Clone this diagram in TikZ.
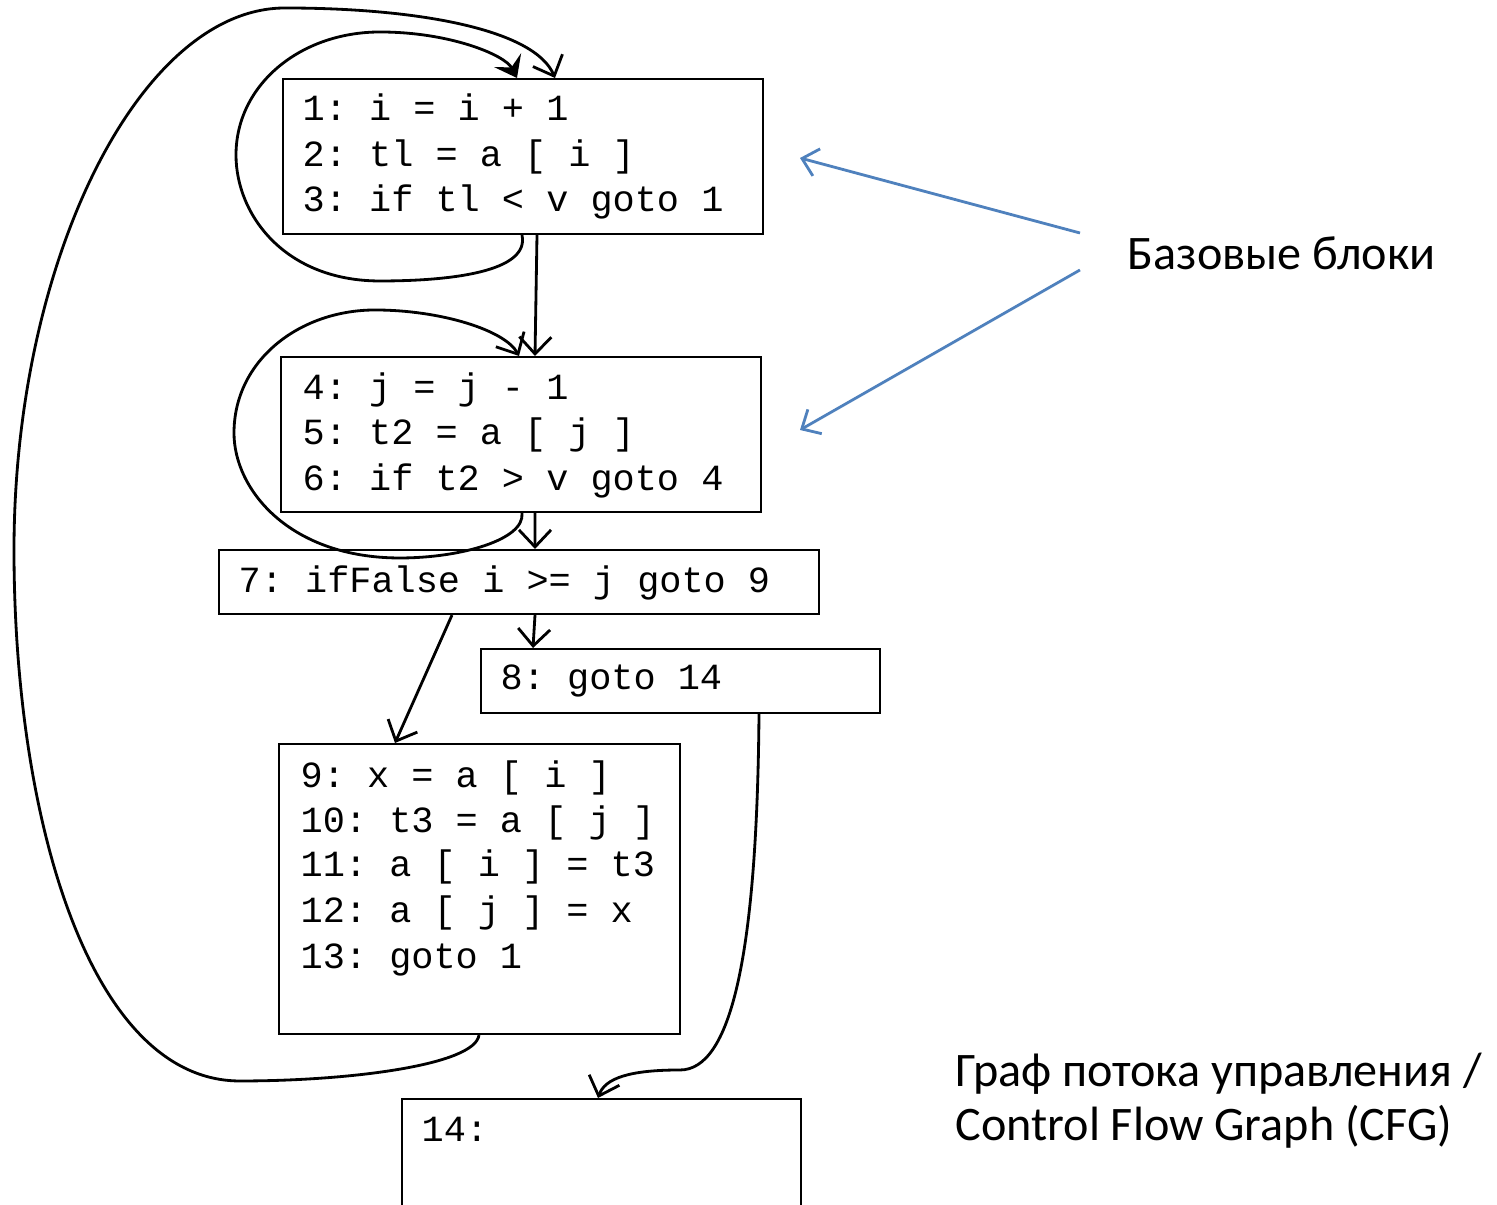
\documentclass[tikz,border=0pt]{standalone}
\usepackage{fontspec}
\setmainfont{Carlito}
\newfontfamily\codefont{Liberation Mono}
\usetikzlibrary{arrows.meta}

\definecolor{noteblue}{RGB}{79,129,189}
\frenchspacing

\begin{document}
\begin{tikzpicture}[
  block/.style={draw, line width=0.6pt, anchor=north west, inner sep=0pt},
  code/.style={anchor=base west, inner sep=0pt, font=\codefont\fontsize{10.5}{13}\selectfont},
  note/.style={anchor=base west, inner sep=0pt, font=\fontsize{13.7}{16}\selectfont},
  flow/.style={line width=0.8pt, -{Straight Barb[length=1.7mm, width=3.2mm]}},
  hint/.style={noteblue, line width=0.8pt, -{Straight Barb[length=1.5mm, width=2.8mm]}}
]
 \clip (0,0) rectangle (14.97,-12.05);

  % Blocks
  \node[block, minimum width=4.80cm, minimum height=1.55cm] (b1) at (2.82,-0.78) {};
  \node[block, minimum width=4.80cm, minimum height=1.55cm] (b2) at (2.80,-3.56) {};
  \node[block, minimum width=6.00cm, minimum height=0.64cm] (b3) at (2.18,-5.49) {};
  \node[block, minimum width=3.99cm, minimum height=0.64cm] (b4) at (4.80,-6.48) {};
  \node[block, minimum width=4.01cm, minimum height=2.90cm] (b5) at (2.78,-7.43) {};
  \node[block, minimum width=3.99cm, minimum height=1.60cm] (b6) at (4.01,-10.98) {};

  % Code in block 1
  \node[code] (l1) at (3.02,-1.21) {1: i = i + 1};
  \node[code] (l2) at (3.02,-1.67) {2: tl = a [ i ]};
  \node[code] (l3) at (3.02,-2.12) {3: if tl < v goto 1};

  % Code in block 2
  \node[code] (l4) at (3.02,-4.00) {4: j = j - 1};
  \node[code] (l5) at (3.02,-4.45) {5: t2 = a [ j ]};
  \node[code] (l6) at (3.02,-4.91) {6: if t2 > v goto 4};

  % Blocks 3 and 4
  \node[code] (l7) at (2.38,-5.93) {7: ifFalse i >= j goto 9};
  \node[code] (l8) at (5.00,-6.90) {8: goto 14};

  % Code in block 5
  \node[code] (l9) at (3.00,-7.88) {9: x = a [ i ]};
  \node[code] (l10) at (3.00,-8.33) {10: t3 = a [ j ]};
  \node[code] (l11) at (3.00,-8.77) {11: a [ i ] = t3};
  \node[code] (l12) at (3.00,-9.23) {12: a [ j ] = x};
  \node[code] (l13) at (3.00,-9.69) {13: goto 1};

  % Block 6
  \node[code] (l14) at (4.21,-11.42) {14:};

  % Notes
  \node[note] (base) at (11.27,-2.70) {Базовые блоки};
  \node[note] (cfg1) at (9.55,-10.87) {Граф потока управления /};
  \node[note] (cfg2) at (9.55,-11.41) {Control Flow Graph (CFG)};

  \coordinate (h1) at (10.80,-2.33);
  \coordinate (h2) at (10.80,-2.70);
  \coordinate (t1) at (8.00,-1.58);
  \coordinate (t2) at (8.00,-4.30);

  % Straight edges
  \draw[flow] ([xshift=2.55cm]b1.south west) -- ([xshift=2.55cm]b2.north west);
  \draw[flow] ([xshift=2.55cm]b2.south west) -- ([xshift=3.17cm]b3.north west);
  \draw[flow] ([xshift=3.17cm]b3.south west) -- ([xshift=0.53cm]b4.north west);
  \draw[flow] ([xshift=2.34cm]b3.south west) -- ([xshift=1.17cm]b5.north west);

  % Loop on block 1
  \draw[line width=0.8pt, -{Stealth[length=2mm, width=3mm, inset=0.8mm]}] ([xshift=2.40cm]b1.south west)
    .. controls (5.30,-2.72) and (4.50,-2.81) .. (3.80,-2.81)
    .. controls (2.85,-2.81) and (2.36,-2.15) .. (2.36,-1.55)
    .. controls (2.36,-0.85) and (3.00,-0.32) .. (3.80,-0.32)
    .. controls (4.50,-0.32) and (5.05,-0.55) .. ([xshift=2.35cm]b1.north west);

  % Loop on block 2
  \draw[flow] ([xshift=2.42cm]b2.south west)
    .. controls (5.25,-5.40) and (4.60,-5.58) .. (4.00,-5.58)
    .. controls (2.90,-5.58) and (2.34,-4.90) .. (2.34,-4.33)
    .. controls (2.34,-3.60) and (3.00,-3.10) .. (3.75,-3.10)
    .. controls (4.40,-3.10) and (5.05,-3.30) .. ([xshift=2.39cm]b2.north west);

  % Back edge from block 5
  \draw[flow] ([xshift=2.01cm]b5.south west)
    .. controls (4.75,-10.65) and (3.50,-10.81) .. (2.40,-10.81)
    .. controls (0.90,-10.81) and (0.14,-8.20) .. (0.14,-5.50)
    .. controls (0.14,-2.60) and (1.40,-0.08) .. (2.85,-0.08)
    .. controls (4.20,-0.08) and (5.35,-0.30) .. ([xshift=2.73cm]b1.north west);

  % Edge from block 4 to block 6
  \draw[flow] ([xshift=2.79cm]b4.south west)
    .. controls (7.57,-9.60) and (7.30,-10.70) .. (6.80,-10.70)
    .. controls (6.30,-10.70) and (6.05,-10.78) .. ([xshift=1.97cm]b6.north west);

  % Hints
  \draw[hint] (h1) -- (t1);
  \draw[hint] (h2) -- (t2);
\end{tikzpicture}
\end{document}
